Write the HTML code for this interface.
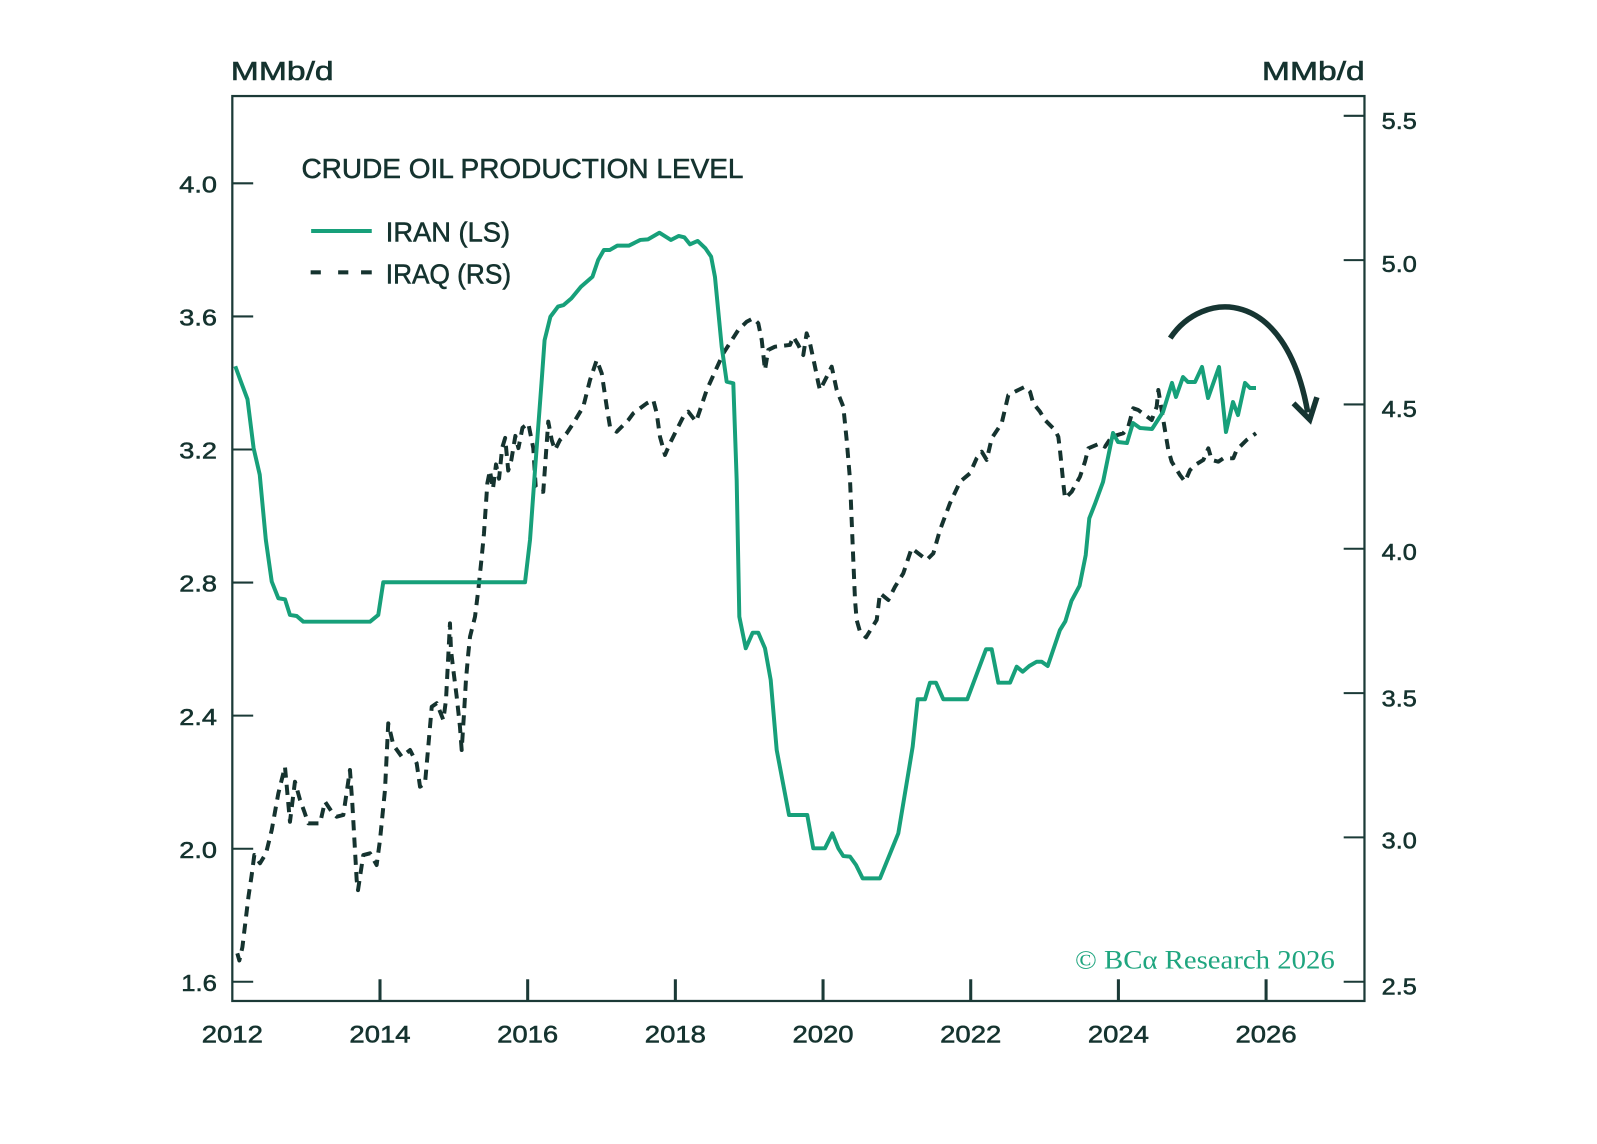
<!DOCTYPE html>
<html><head><meta charset="utf-8"><style>
html,body{margin:0;padding:0;background:#fff;}
svg{display:block;}
text{font-family:"Liberation Sans",sans-serif;fill:#15332f;}
.t{stroke:#15332f;stroke-width:0.55;}
</style></head><body>
<svg width="1597" height="1144" viewBox="0 0 1597 1144" xmlns="http://www.w3.org/2000/svg">
<rect width="1597" height="1144" fill="#fff"/>
<g transform="scale(1.01849)">
<!-- frame -->
<rect x="228.1" y="94.3" width="1111.6" height="888.5" fill="none" stroke="#1b3a37" stroke-width="2.2"/>
<!-- left ticks -->
<g stroke="#1b3a37" stroke-width="2">
<line x1="228" y1="180.0" x2="248.6" y2="180.0"/>
<line x1="228" y1="310.7" x2="248.6" y2="310.7"/>
<line x1="228" y1="441.3" x2="248.6" y2="441.3"/>
<line x1="228" y1="572.0" x2="248.6" y2="572.0"/>
<line x1="228" y1="702.6" x2="248.6" y2="702.6"/>
<line x1="228" y1="833.3" x2="248.6" y2="833.3"/>
<line x1="228" y1="963.9" x2="248.6" y2="963.9"/>
<!-- right ticks -->
<line x1="1319.3" y1="113.7" x2="1340" y2="113.7"/>
<line x1="1319.3" y1="255.4" x2="1340" y2="255.4"/>
<line x1="1319.3" y1="397.1" x2="1340" y2="397.1"/>
<line x1="1319.3" y1="538.8" x2="1340" y2="538.8"/>
<line x1="1319.3" y1="680.5" x2="1340" y2="680.5"/>
<line x1="1319.3" y1="822.2" x2="1340" y2="822.2"/>
<line x1="1319.3" y1="963.9" x2="1340" y2="963.9"/>
</g>
<!-- x ticks -->
<g stroke="#1b3a37" stroke-width="3">
<line x1="373.1" y1="961.5" x2="373.1" y2="982.8"/>
<line x1="518.1" y1="961.5" x2="518.1" y2="982.8"/>
<line x1="663.1" y1="961.5" x2="663.1" y2="982.8"/>
<line x1="808.1" y1="961.5" x2="808.1" y2="982.8"/>
<line x1="953.1" y1="961.5" x2="953.1" y2="982.8"/>
<line x1="1098.1" y1="961.5" x2="1098.1" y2="982.8"/>
<line x1="1243.1" y1="961.5" x2="1243.1" y2="982.8"/>
</g>
<!-- left labels -->
<g font-size="23" text-anchor="end" class="t">
<text x="213" y="189" textLength="37" lengthAdjust="spacingAndGlyphs">4.0</text>
<text x="213" y="319.7" textLength="37" lengthAdjust="spacingAndGlyphs">3.6</text>
<text x="213" y="450.3" textLength="37" lengthAdjust="spacingAndGlyphs">3.2</text>
<text x="213" y="581" textLength="37" lengthAdjust="spacingAndGlyphs">2.8</text>
<text x="213" y="711.6" textLength="37" lengthAdjust="spacingAndGlyphs">2.4</text>
<text x="213" y="842.3" textLength="37" lengthAdjust="spacingAndGlyphs">2.0</text>
<text x="213" y="972.9" textLength="35" lengthAdjust="spacingAndGlyphs">1.6</text>
</g>
<!-- right labels -->
<g font-size="23" class="t">
<text x="1356.6" y="126.5" textLength="34.5" lengthAdjust="spacingAndGlyphs">5.5</text>
<text x="1356.6" y="267" textLength="34.5" lengthAdjust="spacingAndGlyphs">5.0</text>
<text x="1356.6" y="409.5" textLength="34.5" lengthAdjust="spacingAndGlyphs">4.5</text>
<text x="1356.6" y="550" textLength="34.5" lengthAdjust="spacingAndGlyphs">4.0</text>
<text x="1356.6" y="693.5" textLength="34.5" lengthAdjust="spacingAndGlyphs">3.5</text>
<text x="1356.6" y="833" textLength="34.5" lengthAdjust="spacingAndGlyphs">3.0</text>
<text x="1356.6" y="976.5" textLength="34.5" lengthAdjust="spacingAndGlyphs">2.5</text>
</g>
<!-- x labels -->
<g font-size="24" text-anchor="middle" class="t">
<text x="228.1" y="1023.5" textLength="60" lengthAdjust="spacingAndGlyphs">2012</text>
<text x="373.1" y="1023.5" textLength="60" lengthAdjust="spacingAndGlyphs">2014</text>
<text x="518.1" y="1023.5" textLength="60" lengthAdjust="spacingAndGlyphs">2016</text>
<text x="663.1" y="1023.5" textLength="60" lengthAdjust="spacingAndGlyphs">2018</text>
<text x="808.1" y="1023.5" textLength="60" lengthAdjust="spacingAndGlyphs">2020</text>
<text x="953.1" y="1023.5" textLength="60" lengthAdjust="spacingAndGlyphs">2022</text>
<text x="1098.1" y="1023.5" textLength="60" lengthAdjust="spacingAndGlyphs">2024</text>
<text x="1243.1" y="1023.5" textLength="60" lengthAdjust="spacingAndGlyphs">2026</text>
</g>
<!-- axis units -->
<text class="t" x="226.6" y="78.5" font-size="25" textLength="101" lengthAdjust="spacingAndGlyphs">MMb/d</text>
<text class="t" x="1239" y="78.5" font-size="25" textLength="101" lengthAdjust="spacingAndGlyphs">MMb/d</text>
<!-- title & legend -->
<text class="t" x="296" y="175" font-size="27" textLength="434" lengthAdjust="spacingAndGlyphs">CRUDE OIL PRODUCTION LEVEL</text>
<line x1="305.5" y1="226.8" x2="365" y2="226.8" stroke="#17a07a" stroke-width="4"/>
<text class="t" x="378.8" y="237.3" font-size="27" textLength="122" lengthAdjust="spacingAndGlyphs">IRAN (LS)</text>
<g stroke="#15332f" stroke-width="4">
<line x1="305" y1="267.4" x2="315" y2="267.4"/>
<line x1="332" y1="267.4" x2="342" y2="267.4"/>
<line x1="354.5" y1="267.4" x2="365" y2="267.4"/>
</g>
<text class="t" x="378.8" y="278.2" font-size="27" textLength="123" lengthAdjust="spacingAndGlyphs">IRAQ (RS)</text>
<!-- copyright -->
<text x="1055.5" y="950.7" font-size="26" textLength="255" lengthAdjust="spacingAndGlyphs" style="font-family:'Liberation Serif',serif;fill:#1fa57f;">© BCα Research 2026</text>
<!-- Iraq dashed -->
<polyline fill="none" stroke="#15332f" stroke-width="3.9" stroke-dasharray="10 7" stroke-linejoin="round" points="233,936 235,943 238,930 241,905 244,880 247,860 249.7,839.5 255.3,847.6 261.2,837.8 266.8,814.9 273.3,778.9 279.8,752.8 284.7,806.8 289.6,767.5 294.6,785.5 298.8,797 302.7,808.4 314.2,808.4 319.1,787.1 325.7,797 330.6,801.9 337.1,800.2 343.6,756 346,790 350.2,864 351.5,874 356.7,839.5 363.3,837.8 369.8,849.3 373.1,824.7 378,775.6 381.2,710.2 386.2,731.5 394.4,742.9 402.6,736.4 409.1,749.4 412.4,772.4 417.3,769.1 420.5,733.1 423.9,693.9 428.8,690.5 435.3,706.9 437.9,687.3 441.8,612 442.8,638.2 445.1,657.8 448.4,684 451.6,713.5 453.3,736.4 455.6,700.4 457.5,667.6 459.8,641.5 461.5,625.1 466.4,605.5 469.6,579.3 473,546.6 475.2,523.6 478.5,474.5 481,462 484,480 487,456 490,470 493,440 496,430 499,462 502,452 506,428 509,440 513,420 518.7,415.6 523.6,440 526,478 530,483 533.4,482.8 538.3,414 541.7,432 544.9,441.8 549.8,432 556,426 562.9,415.6 572.7,399.3 579.3,373.1 585.9,353.5 590.8,366.5 595.7,399.3 598.9,418.9 605.5,423.9 616.9,412.4 621.8,405.8 635,396 641.4,392.7 644.8,405.8 648,428.8 652.9,446.7 657.8,435.3 662.7,425.4 670.9,409.1 675.8,404.2 683.4,414 687.3,402.6 693.9,382.9 702,364.9 710.2,346.9 724.9,324 733.1,315.9 739.6,312.5 744.5,317.4 747.9,333.8 751.1,363.3 754.3,343.6 760.9,340.4 775.6,338.7 778.9,330.6 783.8,338.7 788.7,348.6 792,327.3 795.3,337.1 800.2,360 803.5,376.3 805.1,382.9 811.7,370 816.6,360 821.5,382.9 828,399.3 831.3,432 834.6,471.3 836.2,510.6 837.8,549.8 839.5,589.1 841.1,608.7 844.4,620.2 850.3,625.7 860.8,608.7 864,582.5 872.2,589.1 878.8,576 886.9,562.9 895.1,538.3 909.9,549.8 916.4,543.3 922.9,520.4 932.7,494.2 942.6,473 952.4,464.7 958.9,450 963.9,443.5 968.8,451.6 973.7,430.3 983.5,415.6 990,388 999.8,382.9 1006.4,379.7 1011.3,384.6 1014.5,396 1021.1,404.2 1026,412.4 1035.8,422.2 1039.1,428.8 1040.7,441.8 1042.4,458.2 1044,474.5 1045.7,489.3 1052.2,482.8 1060.4,468 1065.3,453.3 1068.6,440.2 1080,435.3 1084.9,438.6 1091.5,428.8 1102.9,425.4 1107.8,418.9 1112.7,400.9 1117.6,402.6 1130.8,412.4 1135.7,399.3 1137.3,382.9 1143.8,422.2 1147.1,441.8 1150.4,453.3 1158.6,466.4 1163.5,472.9 1168.4,461.5 1173.3,456.6 1181.5,451.6 1186.4,440.2 1189.7,451.6 1196.2,453.3 1201.1,450 1210.9,450 1214.2,441.8 1224,432 1233.2,425.4"/>
<!-- Iran solid -->
<polyline fill="none" stroke="#17a07a" stroke-width="3.9" stroke-linejoin="round" points="231,359.6 237,376 243,392 249,440 255,466 261,530 266.8,571 273.3,587.4 279.8,588.4 284.7,603.8 291.3,604.8 297.8,610.4 363.3,610.4 371.4,603.8 376.3,571.7 515.5,571.7 520.4,530 525.3,461.5 531.9,373 534.7,334 540.4,311 547.9,301 553.4,299.5 561,293 570.4,281.5 581.7,271.7 587.3,255.3 592.9,245.5 598.6,245.5 606.1,241.2 617.4,241.2 628.7,235.6 636.2,235 647.4,228.5 658.7,235.6 666.3,231.7 671.9,233 677.5,239.9 685,236.6 692.6,243.8 698.2,252 702,272 708.6,340.4 713.5,374.8 720,376.3 723.3,471.3 725.9,605.5 732.2,636.5 739,621.2 744.5,621.2 751.1,636.5 756.7,667.6 762.6,736.4 774.7,800.2 792.6,800.2 798.5,832.9 810,832.9 817.2,818.2 823.1,832.9 828,840.5 834.6,841.1 840.5,849.3 847,862.4 864,862.4 882,818.2 891.8,759.3 896.1,733.1 901,686.6 908.2,686.6 913.1,670.3 919,670.3 926.2,686.6 949.7,686.6 968.1,637.5 973.7,637.5 980.2,670.3 991.7,670.3 998.2,654.6 1004.1,659.5 1010.6,653.9 1017.9,649.7 1022.8,649.7 1028.7,653.9 1040.7,618.6 1046,610 1052,590 1060,575 1066,545 1069.5,509 1075,495 1083,473.2 1092.8,425.1 1097.7,434 1106.5,435 1112.4,415.3 1119.3,420.2 1131.1,421.2 1141.9,404.5 1150.7,376 1154.6,389.8 1161.5,370.2 1166.4,375.1 1173.3,375.1 1180.2,360.3 1186.1,390.8 1196.9,360.3 1203.7,424.2 1210.6,394.7 1215.5,407.5 1222.4,376 1227.3,381 1233.2,381"/>
<!-- arrow -->
<path d="M1149,332 C1180,285 1262,280 1284,405" fill="none" stroke="#163532" stroke-width="5.4"/>
<polyline points="1270,396 1286,412 1293,390" fill="none" stroke="#163532" stroke-width="5.4" stroke-linejoin="miter"/>
</g>
</svg>
</body></html>
